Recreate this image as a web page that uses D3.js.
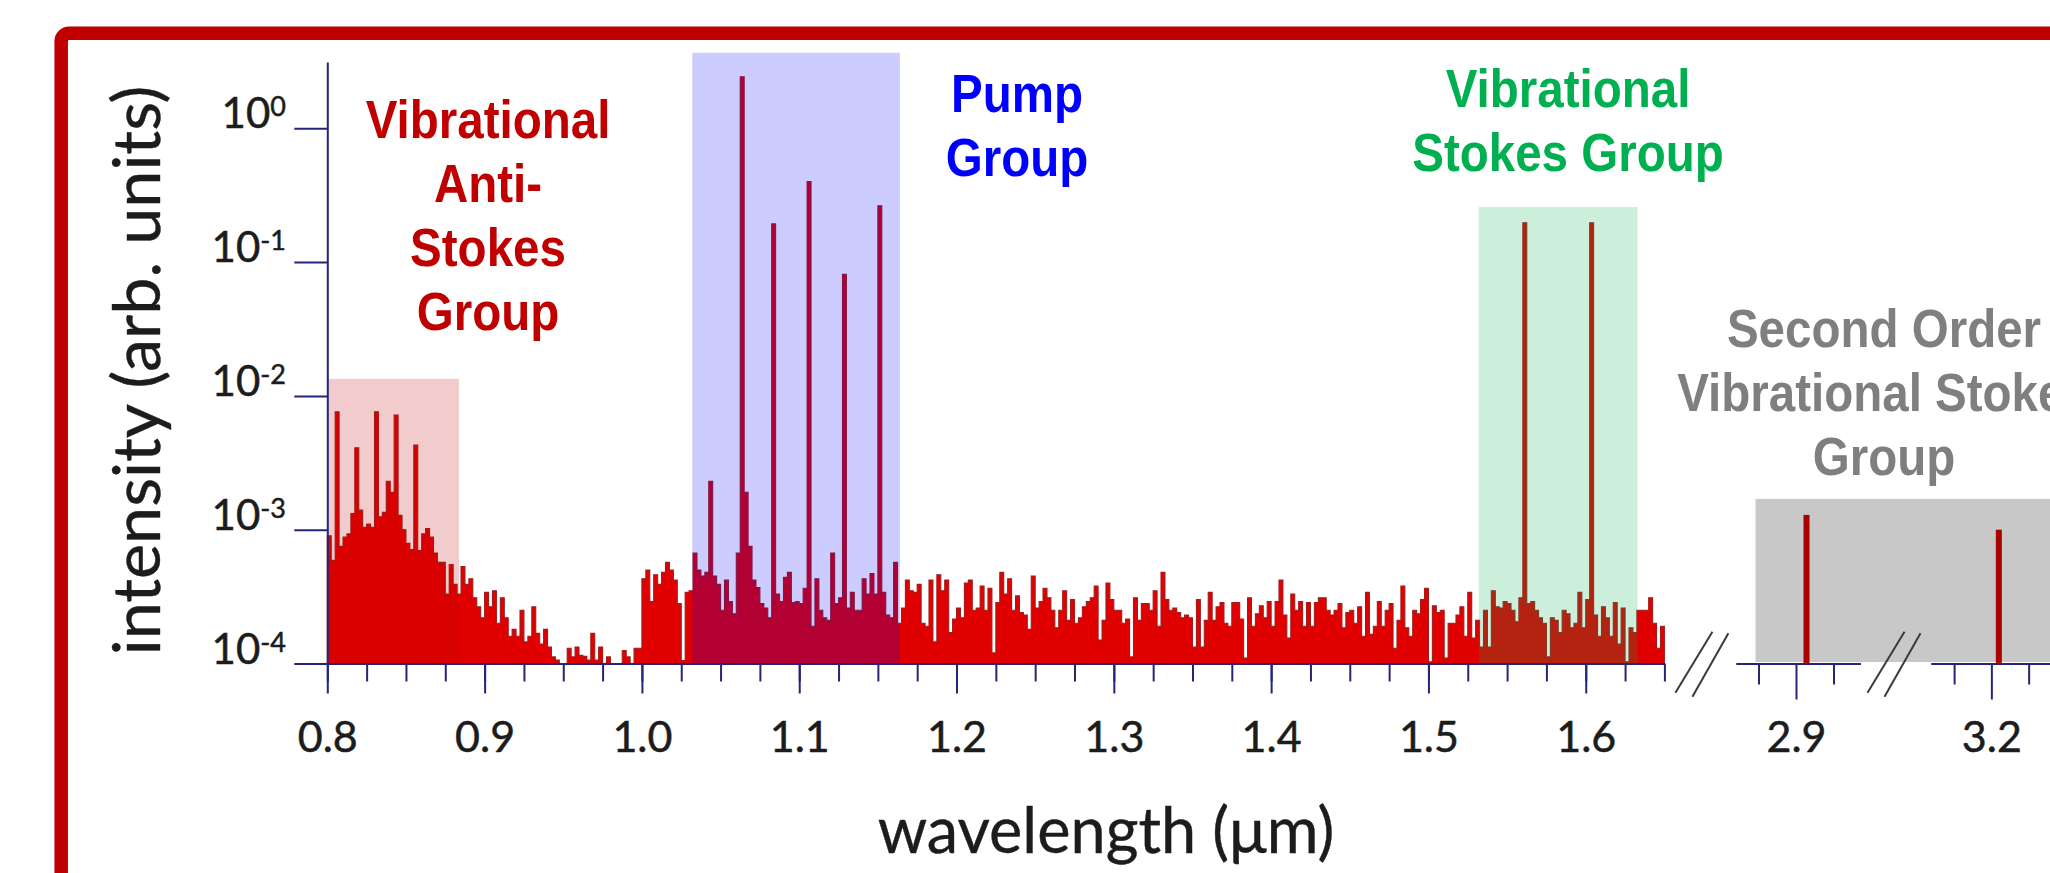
<!DOCTYPE html>
<meta charset="utf-8">
<script src="https://cdn.jsdelivr.net/npm/d3@7"></script>
<style>
  body { margin: 0; background: #fff; overflow: hidden; }
  .group-label { font-family: "Liberation Sans", Arial, sans-serif; font-weight: bold; text-anchor: middle; }
</style>
<div id="chart"></div>
<script>
// ---- spectrum, one value every 0.0025 um, one array per 0.1 um block ----
const lambdaStep = 0.0025;
const spec080 = [9.0e-4, 5.9e-4, 7.6e-3, 7.5e-4, 8.8e-4, 9.3e-4, 1.32e-3, 4.1e-3, 1.4e-3, 1.04e-3,
                 1.1e-3, 1.04e-3, 7.6e-3, 1.25e-3, 1.35e-3, 2.3e-3, 1.9e-3, 7.2e-3, 1.28e-3, 1.0e-3,
                 7.9e-4, 7.1e-4, 4.3e-3, 7.0e-4, 9.3e-4, 1.02e-3, 8.8e-4, 6.7e-4, 5.7e-4, 5.7e-4,
                 3.3e-4, 5.5e-4, 3.9e-4, 3.3e-4, 5.3e-4, 3.9e-4, 4.3e-4, 3.1e-4, 2.65e-4, 2.2e-4];
const spec090 = [3.4e-4, 2.65e-4, 3.5e-4, 2.0e-4, 3.1e-4, 2.2e-4, 1.6e-4, 1.8e-4, 1.6e-4, 2.5e-4,
                 1.45e-4, 1.6e-4, 2.65e-4, 1.68e-4, 1.4e-4, 1.8e-4, 1.33e-4, 1.12e-4, 1.06e-4, 1.0e-4,
                 1.0e-4, 1.3e-4, 1.12e-4, 1.33e-4, 1.15e-4, 1.13e-4, 1.06e-4, 1.68e-4, 1.06e-4, 1.33e-4,
                 1.0e-4, 1.12e-4, 1.0e-4, 1.0e-4, 1.0e-4, 1.25e-4, 1.12e-4, 1.0e-4, 1.3e-4, 1.3e-4];
const spec100 = [4.3e-4, 5.0e-4, 2.9e-4, 4.6e-4, 3.9e-4, 4.8e-4, 5.7e-4, 5.0e-4, 4.2e-4, 2.8e-4,
                 1.05e-4, 3.4e-4, 3.5e-4, 6.7e-4, 5.0e-4, 4.5e-4, 4.8e-4, 2.3e-3, 4.5e-4, 3.9e-4,
                 2.5e-4, 4.2e-4, 2.9e-4, 2.35e-4, 6.7e-4, 2.43, 1.9e-3, 7.5e-4, 4.2e-4, 3.7e-4,
                 2.8e-4, 2.6e-4, 2.2e-4, 0.193, 3.3e-4, 2.9e-4, 4.4e-4, 4.8e-4, 2.85e-4, 2.9e-4];
const spec110 = [2.8e-4, 3.65e-4, 0.40, 1.9e-4, 4.3e-4, 2.5e-4, 2.2e-4, 2.1e-4, 6.7e-4, 2.8e-4,
                 3.1e-4, 0.081, 2.6e-4, 3.4e-4, 2.5e-4, 2.5e-4, 4.3e-4, 3.3e-4, 4.7e-4, 3.3e-4,
                 0.264, 3.4e-4, 2.3e-4, 2.2e-4, 5.7e-4, 2.0e-4, 2.6e-4, 4.2e-4, 3.5e-4, 3.4e-4,
                 3.9e-4, 2.0e-4, 1.9e-4, 4.2e-4, 1.45e-4, 4.6e-4, 3.5e-4, 4.2e-4, 1.7e-4, 2.15e-4];
const spec120 = [2.6e-4, 2.2e-4, 4.0e-4, 4.2e-4, 2.5e-4, 2.6e-4, 3.8e-4, 2.5e-4, 3.65e-4, 1.2e-4,
                 2.85e-4, 4.8e-4, 3.3e-4, 4.3e-4, 2.5e-4, 3.2e-4, 2.4e-4, 2.3e-4, 1.8e-4, 4.5e-4,
                 2.6e-4, 2.9e-4, 3.65e-4, 3.1e-4, 2.5e-4, 1.85e-4, 2.5e-4, 3.5e-4, 2.1e-4, 3.0e-4,
                 2.0e-4, 2.2e-4, 2.65e-4, 2.9e-4, 3.1e-4, 3.8e-4, 1.5e-4, 2.1e-4, 4.0e-4, 3.0e-4];
const spec130 = [2.5e-4, 2.5e-4, 2.0e-4, 2.15e-4, 1.12e-4, 3.1e-4, 2.1e-4, 2.8e-4, 2.8e-4, 2.5e-4,
                 3.5e-4, 1.9e-4, 4.8e-4, 3.0e-4, 2.5e-4, 2.6e-4, 2.4e-4, 2.2e-4, 2.3e-4, 2.2e-4,
                 1.33e-4, 3.0e-4, 1.33e-4, 2.1e-4, 3.4e-4, 2.1e-4, 2.65e-4, 2.85e-4, 2.0e-4, 1.9e-4,
                 2.85e-4, 2.85e-4, 2.15e-4, 1.1e-4, 3.1e-4, 1.9e-4, 2.35e-4, 2.7e-4, 2.2e-4, 2.9e-4];
const spec140 = [1.9e-4, 2.9e-4, 4.2e-4, 2.3e-4, 1.55e-4, 3.3e-4, 2.5e-4, 2.9e-4, 1.9e-4, 2.85e-4,
                 1.9e-4, 2.85e-4, 3.1e-4, 3.1e-4, 2.5e-4, 2.3e-4, 2.5e-4, 2.8e-4, 1.85e-4, 2.4e-4,
                 2.5e-4, 2.0e-4, 2.65e-4, 1.6e-4, 3.4e-4, 1.65e-4, 1.9e-4, 2.9e-4, 1.9e-4, 2.5e-4,
                 2.8e-4, 1.3e-4, 2.1e-4, 3.8e-4, 1.85e-4, 1.6e-4, 2.5e-4, 2.35e-4, 3.0e-4, 3.65e-4];
const spec150 = [1.03e-4, 2.7e-4, 2.4e-4, 2.5e-4, 1.1e-4, 2.0e-4, 2.0e-4, 2.3e-4, 2.65e-4, 1.6e-4,
                 3.4e-4, 1.55e-4, 2.1e-4, 1.33e-4, 2.5e-4, 1.33e-4, 3.5e-4, 2.65e-4, 2.6e-4, 2.9e-4,
                 2.8e-4, 2.5e-4, 2.05e-4, 3.1e-4, 0.197, 2.8e-4, 2.9e-4, 2.5e-4, 2.2e-4, 2.0e-4,
                 1.12e-4, 2.2e-4, 2.1e-4, 1.7e-4, 2.5e-4, 2.35e-4, 1.85e-4, 2.0e-4, 3.4e-4, 1.85e-4];
const spec160 = [3.0e-4, 0.197, 2.3e-4, 1.6e-4, 2.65e-4, 2.2e-4, 1.6e-4, 2.85e-4, 1.4e-4, 2.6e-4,
                 1.03e-4, 1.85e-4, 1.7e-4, 2.5e-4, 2.5e-4, 2.5e-4, 3.1e-4, 2.0e-4, 1.3e-4, 1.9e-4];
const specStarts = [0.8, 0.9, 1.0, 1.1, 1.2, 1.3, 1.4, 1.5, 1.6];
const specBlocks = [spec080, spec090, spec100, spec110, spec120, spec130, spec140, spec150, spec160];

// second order Stokes lines (broken axis segments)
const secondOrderLambda = [2.907, 3.205];
const secondOrderIntensity = [1.29e-3, 1.0e-3];

// shaded groups: anti-Stokes, pump, Stokes, second order
const bandStart = [0.8, 1.032, 1.532, 2.873];
const bandEnd = [0.8837, 1.164, 1.633, 3.3];
const bandTop = [0.0134, 3.67, 0.258, 1.7e-3];

// axis ticks
const xMajorTicks = [0.8, 0.9, 1.0, 1.1, 1.2, 1.3, 1.4, 1.5, 1.6];
const seg2Major = [2.9], seg2Minor = [2.875, 2.925];
const seg3Major = [3.2], seg3Minor = [3.175, 3.225];
const yTicks = [1e-4, 1e-3, 1e-2, 1e-1, 1];
const yTickExp = ["-4", "-3", "-2", "-1", "0"];
const yAxisTop = 3.13;

const labelAntiStokes = ["Vibrational", "Anti-", "Stokes", "Group"];
const labelPump = ["Pump", "Group"];
const labelStokes = ["Vibrational", "Stokes Group"];
const labelSecond = ["Second Order", "Vibrational Stokes", "Group"];

// ---------------------------------------------------------------
const W = 2050, H = 873;
const svg = d3.select("#chart").append("svg").attr("width", W).attr("height", H);

const x = d3.scaleLinear().domain([0.8, 1.65]).range([327.3, 1664.4]);
const x2 = d3.scaleLinear().domain([2.86, 2.943]).range([1736, 1860.5]);
const x3 = d3.scaleLinear().domain([3.1595, 3.24]).range([1931, 2051]);
const y = d3.scaleLog().domain([1e-4, yAxisTop]).range([663.5, 62]);
const base = y(1e-4);

const axisColor = "#24247a";
const textColor = "#1c1c1c";

// red frame
svg.append("rect")
    .attr("x", 61.2).attr("y", 33.3)
    .attr("width", 2100).attr("height", 900)
    .attr("rx", 8)
    .attr("fill", "none")
    .attr("stroke", "#c00000")
    .attr("stroke-width", 13.5);

// spectrum as stepped bars
let spectrum = [];
specBlocks.forEach(function (vals, b) {
    vals.forEach(function (v, i) {
        spectrum.push({lam: specStarts[b] + i * lambdaStep, v: v});
    });
});
spectrum.push({lam: 1.65, v: spectrum[spectrum.length - 1].v});

svg.append("path")
    .datum(spectrum)
    .attr("fill", "#e00000")
    .attr("stroke", "#a31c1c")
    .attr("stroke-width", 1.1)
    .attr("d", d3.area()
        .curve(d3.curveStepAfter)
        .x(d => x(d.lam))
        .y0(base)
        .y1(d => y(d.v)));

// second order lines
const segScales = [x2, x3];
secondOrderLambda.forEach(function (lam, i) {
    svg.append("rect")
        .attr("x", segScales[i](lam) - 3)
        .attr("width", 6)
        .attr("y", y(secondOrderIntensity[i]))
        .attr("height", base - y(secondOrderIntensity[i]))
        .attr("fill", "#d80000");
});

// shaded groups (semi transparent over the spectrum)
const bandFill = ["rgba(192,0,0,0.2)", "rgba(0,0,255,0.2)", "rgba(0,176,80,0.2)", "rgba(0,0,0,0.215)"];
const bandScale = [x, x, x, x2];
bandStart.forEach(function (s, i) {
    const sc = bandScale[i];
    const bottom = i === 3 ? base - 1.5 : base;
    svg.append("rect")
        .attr("x", sc(s))
        .attr("width", sc(bandEnd[i]) - sc(s))
        .attr("y", y(bandTop[i]))
        .attr("height", bottom - y(bandTop[i]))
        .attr("fill", bandFill[i]);
});

// ---- axes ----
function styleAxis(g) {
    g.selectAll("path, line").attr("stroke", axisColor).attr("stroke-width", 2);
}

const minorMain = d3.range(0.8, 1.6501, 0.025);
const gx = svg.append("g").attr("transform", "translate(0," + base + ")");
gx.append("g").call(d3.axisBottom(x).tickValues(minorMain).tickSize(18).tickSizeOuter(0).tickFormat(""));
gx.append("g").call(d3.axisBottom(x).tickValues(xMajorTicks).tickSize(30).tickSizeOuter(0).tickFormat(d3.format(".1f")));
styleAxis(gx);

function segmentAxis(sc, major, minor) {
    const g = svg.append("g").attr("transform", "translate(0," + base + ")");
    g.append("g").call(d3.axisBottom(sc).tickValues(minor).tickSize(21).tickSizeOuter(0).tickFormat(""));
    g.append("g").call(d3.axisBottom(sc).tickValues(major).tickSize(36).tickSizeOuter(0).tickFormat(d3.format(".1f")));
    styleAxis(g);
    return g;
}
const g2 = segmentAxis(x2, seg2Major, seg2Minor);
const g3 = segmentAxis(x3, seg3Major, seg3Minor);

[gx, g2, g3].forEach(function (g) {
    g.selectAll("text")
        .attr("y", 88.5).attr("dy", null)
        .attr("fill", textColor)
        .attr("stroke", textColor).attr("stroke-width", 0.5)
        .style("font-family", "Lato, sans-serif")
        .style("font-size", "43px");
});

// y axis
const gy = svg.append("g")
    .attr("transform", "translate(" + x(0.8) + ",0)")
    .call(d3.axisLeft(y).tickValues(yTicks).tickSize(33).tickSizeOuter(0).tickFormat(""));
styleAxis(gy);

yTicks.forEach(function (t, i) {
    const lbl = svg.append("text")
        .attr("x", 286)
        .attr("y", y(t))
        .attr("text-anchor", "end")
        .attr("fill", textColor)
        .attr("stroke", textColor).attr("stroke-width", 0.5)
        .style("font-family", "Lato, sans-serif");
    lbl.append("tspan").style("font-size", "42px").text("10");
    lbl.append("tspan").attr("dy", -12).style("font-size", "27px").text(yTickExp[i]);
});

// axis titles
svg.append("text")
    .attr("transform", "translate(160,370.5) rotate(-90)")
    .attr("text-anchor", "middle")
    .attr("fill", textColor)
    .attr("stroke", textColor).attr("stroke-width", 0.4)
    .style("font-family", "Lato, sans-serif")
    .style("font-size", "66.5px")
    .text("intensity (arb. units)");

svg.append("text")
    .attr("x", 1106).attr("y", 853)
    .attr("text-anchor", "middle")
    .attr("fill", textColor)
    .attr("stroke", textColor).attr("stroke-width", 0.4)
    .style("font-family", "Lato, sans-serif")
    .style("font-size", "63px")
    .text("wavelength (\u03bcm)");

// axis break marks
function breakMark(x0) {
    const marks = [[11, 692.7, 48, 631.7], [28, 696.7, 64, 633.3]];
    marks.forEach(function (m) {
        svg.append("line")
            .attr("x1", x0 + m[0]).attr("y1", m[1])
            .attr("x2", x0 + m[2]).attr("y2", m[3])
            .attr("stroke", "#3a3a3a").attr("stroke-width", 2);
    });
}
breakMark(x.range()[1]);
breakMark(x2.range()[1] - 4);

// group labels (bold, squeezed horizontally to look condensed)
function groupLabel(lines, cx, y0, gap, color) {
    lines.forEach(function (t, i) {
        svg.append("text")
            .attr("class", "group-label")
            .attr("transform", "translate(" + cx + "," + (y0 + i * gap) + ") scale(0.88,1)")
            .attr("fill", color)
            .style("font-size", "54px")
            .text(t);
    });
}
groupLabel(labelAntiStokes, 488, 138, 64, "#c00000");
groupLabel(labelPump, 1017, 112, 64, "#0000ff");
groupLabel(labelStokes, 1568, 107, 63.5, "#00b050");
groupLabel(labelSecond, 1884, 347, 64, "#7f7f7f");
</script>
